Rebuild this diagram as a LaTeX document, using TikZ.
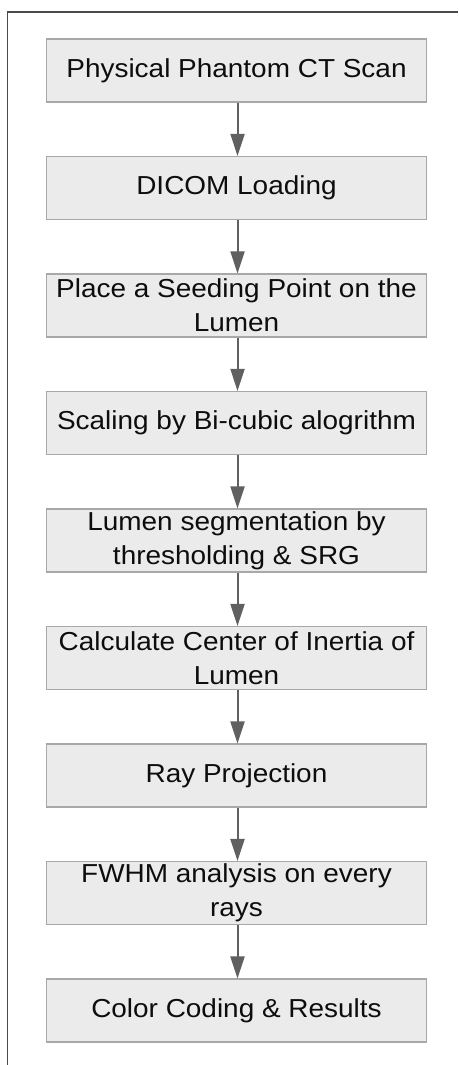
\documentclass[tikz,border=0pt]{standalone}
\usepackage{fontspec}
\setmainfont{Liberation Sans}[FakeStretch=1.075]
\usetikzlibrary{arrows.meta}
\definecolor{boxfill}{HTML}{EBEBEB}
\definecolor{boxline}{HTML}{A8A8A8}
\definecolor{arrowcol}{HTML}{606060}
\definecolor{framecol}{HTML}{4A4A4A}
\tikzset{
  stepbox/.style={draw=boxline, fill=boxfill, line width=1.2pt,
    minimum width=380.5pt, minimum height=63pt, inner sep=0pt,
    align=center, text=black!95,
    font=\fontsize{26}{33.7}\selectfont},
  flowarrow/.style={draw=arrowcol, line width=2pt,
    -{Triangle[width=14pt,length=22pt]}, shorten >=0pt},
  framing/.style={draw=framecol, line width=1.4pt}
}
\begin{document}
\begin{tikzpicture}[x=1pt,y=-1pt]
\useasboundingbox (0,0) rectangle (458,1065);
\coordinate (fa) at (7.5,1065);
\coordinate (fb) at (7.5,12);
\coordinate (fc) at (458,12);
\draw[framing] (fa) -- (fb) -- (fc);
\node[stepbox] (s1) at (236.5,70.5) {Physical Phantom CT Scan};
\node[stepbox] (s2) at (236.5,188) {DICOM Loading};
\node[stepbox] (s3) at (236.5,305.5) {Place a Seeding Point on the\\Lumen};
\node[stepbox] (s4) at (236.5,423) {Scaling by Bi-cubic alogrithm};
\node[stepbox] (s5) at (236.5,540.5) {Lumen segmentation by\\thresholding \& SRG};
\node[stepbox] (s6) at (236.5,658) {Calculate Center of Inertia of\\Lumen};
\node[stepbox] (s7) at (236.5,775.5) {Ray Projection};
\node[stepbox] (s8) at (236.5,893) {FWHM analysis on every\\rays};
\node[stepbox] (s9) at (236.5,1010.5) {Color Coding \& Results};
\foreach \a/\b in {s1/s2,s2/s3,s3/s4,s4/s5,s5/s6,s6/s7,s7/s8,s8/s9}
  \draw[flowarrow] ([xshift=1pt]\a.south) -- ([xshift=1pt]\b.north);
\end{tikzpicture}
\end{document}
